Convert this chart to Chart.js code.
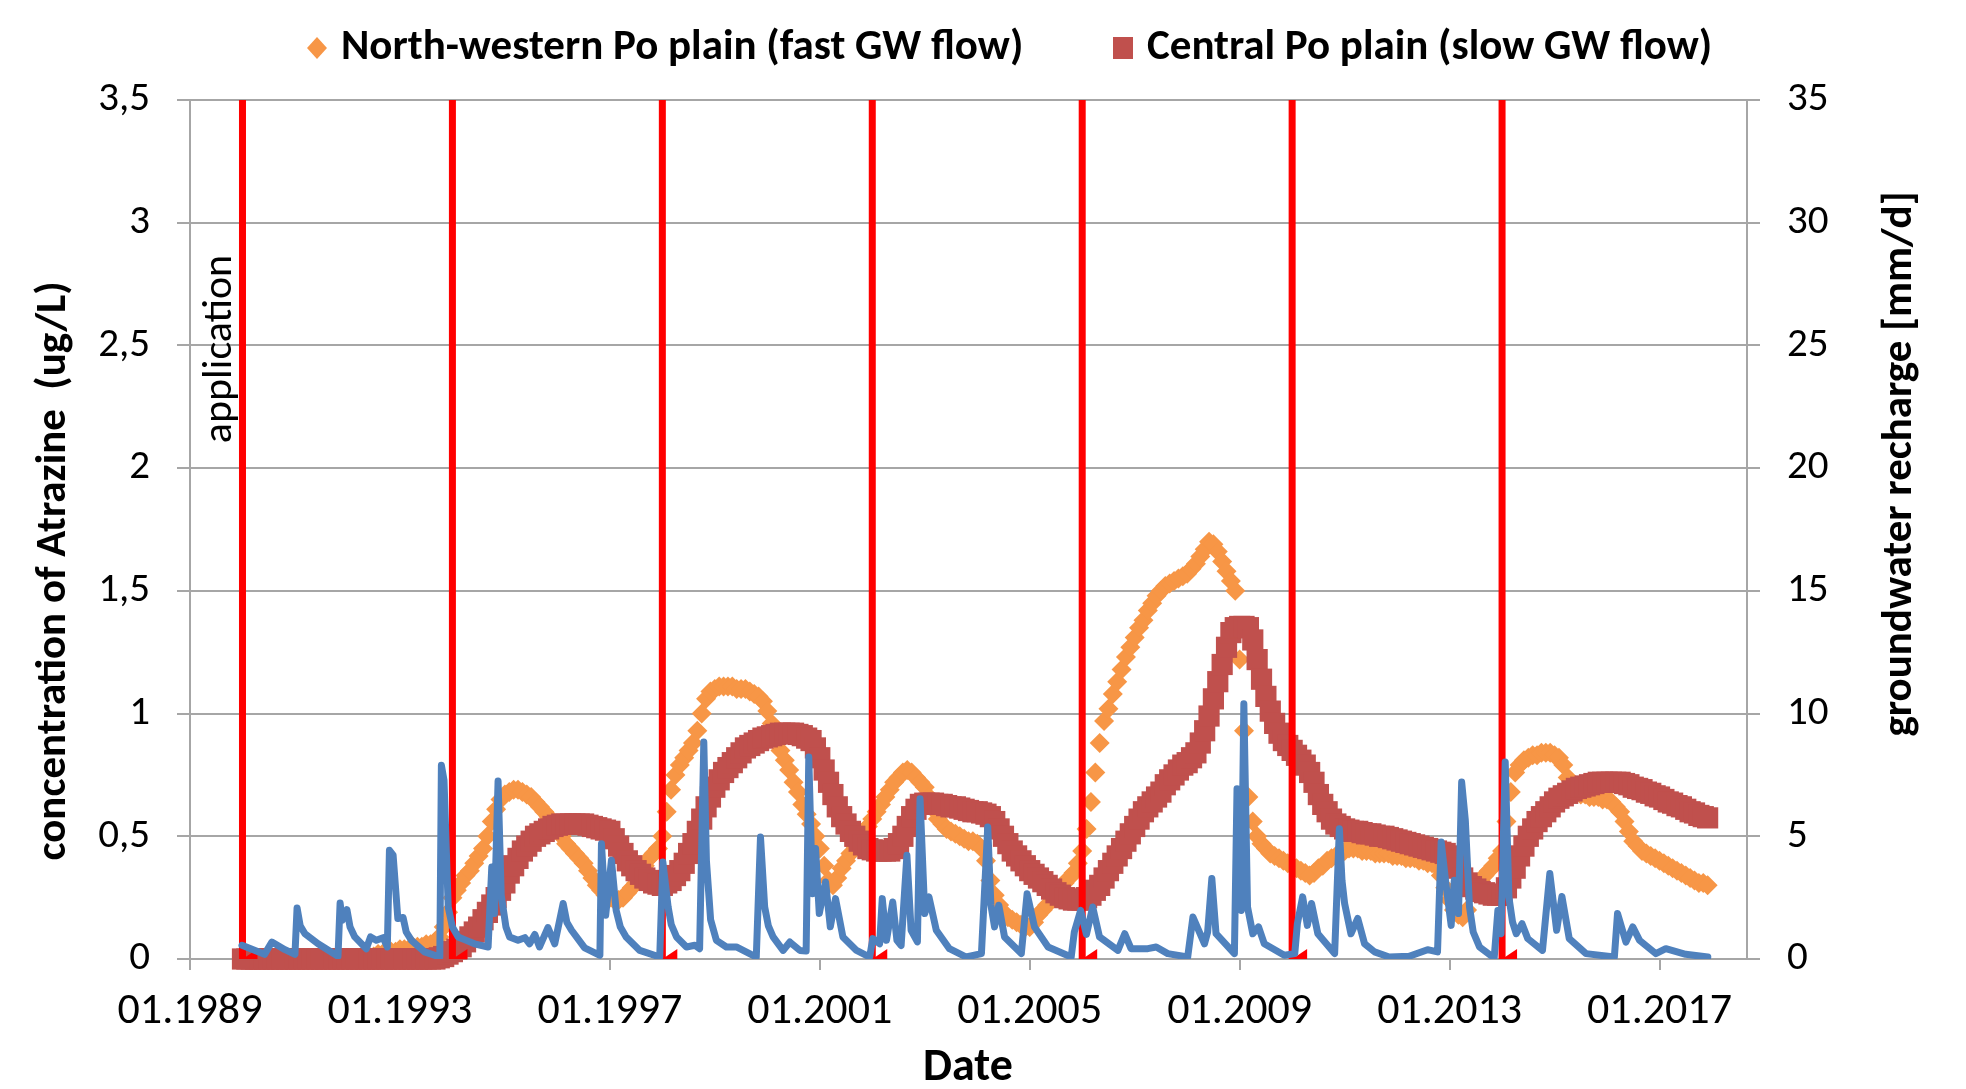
<!DOCTYPE html>
<html>
<head>
<meta charset="utf-8">
<script src="https://cdn.jsdelivr.net/npm/chart.js@4.4.1/dist/chart.umd.min.js"></script>
<style>
  html, body { margin: 0; padding: 0; background: #fff; }
  canvas { display: block; }
</style>
</head>
<body>
<canvas id="chart" width="1966" height="1089"></canvas>
<script>
// x axis tick labels (January of each year) and application dates
const tickYears = [1989, 1993, 1997, 2001, 2005, 2009, 2013, 2017];
const applicationYears = [1990, 1994, 1998, 2002, 2006, 2010, 2014];

// monthly concentrations [ug/L], Jan 1990 .. Dec 2017, one row per year
const northWestern = [
  0, 0, 0, 0, 0, 0, 0, 0, 0, 0, 0, 0,
  0, 0, 0, 0, 0, 0, 0, 0, 0, 0, 0, 0,
  0, 0, 0, 0, 0.01, 0.01, 0.01, 0.02, 0.02, 0.02, 0.03, 0.03,
  0.04, 0.04, 0.04, 0.05, 0.05, 0.05, 0.06, 0.06, 0.07, 0.09, 0.13, 0.19,
  0.25, 0.28, 0.31, 0.34, 0.36, 0.39, 0.42, 0.45, 0.50, 0.56, 0.61, 0.65,
  0.67, 0.68, 0.69, 0.69, 0.68, 0.67, 0.66, 0.64, 0.62, 0.60, 0.58, 0.56,
  0.53, 0.50, 0.47, 0.45, 0.43, 0.41, 0.39, 0.36, 0.33, 0.30, 0.28, 0.26,
  0.25, 0.24, 0.24, 0.25, 0.27, 0.29, 0.31, 0.34, 0.38, 0.41, 0.43, 0.45,
  0.50, 0.60, 0.69, 0.75, 0.79, 0.82, 0.85, 0.88, 0.93, 1.00, 1.06, 1.09,
  1.10, 1.11, 1.11, 1.11, 1.11, 1.10, 1.10, 1.10, 1.09, 1.08, 1.07, 1.05,
  1.01, 0.96, 0.90, 0.85, 0.81, 0.77, 0.72, 0.68, 0.63, 0.59, 0.55, 0.50,
  0.45, 0.38, 0.32, 0.30, 0.33, 0.37, 0.40, 0.43, 0.46, 0.49, 0.52, 0.54,
  0.57, 0.60, 0.63, 0.66, 0.69, 0.72, 0.74, 0.76, 0.77, 0.76, 0.74, 0.72,
  0.70, 0.66, 0.61, 0.57, 0.55, 0.53, 0.52, 0.51, 0.50, 0.49, 0.48, 0.48,
  0.47, 0.45, 0.40, 0.32, 0.26, 0.22, 0.19, 0.17, 0.16, 0.15, 0.14, 0.13,
  0.13, 0.15, 0.18, 0.20, 0.22, 0.25, 0.27, 0.29, 0.31, 0.33, 0.35, 0.39,
  0.44, 0.53, 0.64, 0.76, 0.88, 0.97, 1.02, 1.08, 1.13, 1.18, 1.23, 1.27,
  1.31, 1.35, 1.38, 1.42, 1.45, 1.48, 1.50, 1.52, 1.53, 1.54, 1.55, 1.56,
  1.57, 1.59, 1.61, 1.64, 1.67, 1.70, 1.69, 1.66, 1.62, 1.58, 1.54, 1.50,
  1.22, 0.93, 0.66, 0.56, 0.50, 0.47, 0.45, 0.43, 0.42, 0.41, 0.40, 0.39,
  0.38, 0.37, 0.36, 0.35, 0.34, 0.35, 0.37, 0.38, 0.40, 0.41, 0.42, 0.43,
  0.44, 0.45, 0.45, 0.45, 0.44, 0.44, 0.44, 0.43, 0.43, 0.43, 0.43, 0.42,
  0.42, 0.42, 0.41, 0.41, 0.41, 0.40, 0.40, 0.39, 0.39, 0.38, 0.34, 0.29,
  0.24, 0.20, 0.18, 0.17, 0.20, 0.28, 0.30, 0.32, 0.34, 0.36, 0.38, 0.41,
  0.44, 0.56, 0.68, 0.76, 0.79, 0.81, 0.82, 0.83, 0.83, 0.84, 0.84, 0.84,
  0.83, 0.82, 0.79, 0.74, 0.70, 0.68, 0.67, 0.67, 0.66, 0.66, 0.66, 0.65,
  0.65, 0.64, 0.62, 0.60, 0.56, 0.52, 0.48, 0.46, 0.44, 0.43, 0.42, 0.41,
  0.40, 0.39, 0.38, 0.37, 0.36, 0.35, 0.34, 0.33, 0.32, 0.31, 0.31, 0.30
];

const central = [
  0, 0, 0, 0, 0, 0, 0, 0, 0, 0, 0, 0,
  0, 0, 0, 0, 0, 0, 0, 0, 0, 0, 0, 0,
  0, 0, 0, 0, 0, 0, 0, 0, 0, 0, 0, 0,
  0, 0, 0, 0, 0, 0, 0, 0, 0, 0.005, 0.01, 0.02,
  0.03, 0.04, 0.05, 0.07, 0.09, 0.11, 0.13, 0.16, 0.19, 0.22, 0.25, 0.28,
  0.31, 0.35, 0.38, 0.41, 0.44, 0.46, 0.48, 0.50, 0.51, 0.52, 0.53, 0.54,
  0.545, 0.55, 0.55, 0.55, 0.55, 0.55, 0.55, 0.545, 0.54, 0.535, 0.53, 0.525,
  0.52, 0.49, 0.46, 0.43, 0.40, 0.38, 0.36, 0.345, 0.33, 0.32, 0.31, 0.305,
  0.30, 0.31, 0.32, 0.34, 0.36, 0.39, 0.43, 0.47, 0.52, 0.57, 0.62, 0.66,
  0.70, 0.73, 0.76, 0.78, 0.80, 0.82, 0.84, 0.86, 0.87, 0.88, 0.89, 0.90,
  0.905, 0.91, 0.915, 0.92, 0.92, 0.92, 0.92, 0.915, 0.91, 0.90, 0.89, 0.86,
  0.82, 0.77, 0.72, 0.67, 0.62, 0.58, 0.55, 0.52, 0.50, 0.48, 0.465, 0.45,
  0.445, 0.44, 0.44, 0.44, 0.44, 0.45, 0.47, 0.50, 0.54, 0.58, 0.61, 0.63,
  0.635, 0.635, 0.635, 0.63, 0.63, 0.625, 0.62, 0.62, 0.615, 0.61, 0.605, 0.60,
  0.60, 0.595, 0.59, 0.58, 0.56, 0.53, 0.50, 0.47, 0.44, 0.42, 0.40, 0.38,
  0.36, 0.345, 0.33, 0.315, 0.30, 0.285, 0.27, 0.26, 0.25, 0.245, 0.24, 0.24,
  0.24, 0.25, 0.26, 0.28, 0.30, 0.33, 0.36, 0.39, 0.42, 0.45, 0.48, 0.51,
  0.54, 0.57, 0.60, 0.62, 0.64, 0.66, 0.68, 0.71, 0.73, 0.75, 0.77, 0.79,
  0.80, 0.82, 0.84, 0.88, 0.93, 0.99, 1.06, 1.13, 1.20, 1.27, 1.33, 1.35,
  1.355, 1.355, 1.35, 1.30, 1.22, 1.14, 1.07, 1.01, 0.96, 0.92, 0.89, 0.87,
  0.85, 0.83, 0.81, 0.79, 0.76, 0.72, 0.67, 0.63, 0.60, 0.57, 0.55, 0.54,
  0.53, 0.525, 0.52, 0.52, 0.515, 0.51, 0.51, 0.505, 0.50, 0.50, 0.495, 0.49,
  0.485, 0.48, 0.475, 0.47, 0.465, 0.46, 0.455, 0.45, 0.445, 0.44, 0.435, 0.43,
  0.42, 0.40, 0.37, 0.33, 0.31, 0.295, 0.285, 0.275, 0.27, 0.265, 0.26, 0.26,
  0.26, 0.29, 0.33, 0.37, 0.42, 0.46, 0.50, 0.53, 0.56, 0.58, 0.60, 0.62,
  0.64, 0.655, 0.665, 0.675, 0.685, 0.695, 0.70, 0.705, 0.71, 0.715, 0.72, 0.72,
  0.72, 0.72, 0.72, 0.72, 0.715, 0.71, 0.70, 0.695, 0.69, 0.68, 0.675, 0.665,
  0.66, 0.65, 0.64, 0.635, 0.625, 0.62, 0.61, 0.60, 0.595, 0.585, 0.58, 0.575
];

// groundwater recharge [mm/d] (secondary axis): dates and values
const rechargeDates = [
  1989.99, 1990.42, 1990.56, 1990.81, 1991.00, 1991.04, 1991.10, 1991.19, 1991.44, 1991.82,
  1991.86, 1991.90, 1991.99, 1992.05, 1992.14, 1992.36, 1992.44, 1992.55, 1992.68, 1992.76,
  1992.80, 1992.87, 1992.96, 1993.06, 1993.12, 1993.22, 1993.47, 1993.76, 1993.79, 1993.84,
  1993.92, 1994.00, 1994.11, 1994.23, 1994.42, 1994.68, 1994.75, 1994.80, 1994.87, 1994.93,
  1995.02, 1995.09, 1995.25, 1995.38, 1995.47, 1995.57, 1995.66, 1995.82, 1995.95, 1996.11,
  1996.18, 1996.27, 1996.52, 1996.81, 1996.84, 1996.92, 1997.03, 1997.12, 1997.20, 1997.31,
  1997.57, 1997.95, 1998.01, 1998.11, 1998.17, 1998.27, 1998.46, 1998.62, 1998.71, 1998.79,
  1998.84, 1998.92, 1999.03, 1999.22, 1999.41, 1999.79, 1999.87, 1999.95, 2000.02, 2000.11,
  2000.30, 2000.43, 2000.62, 2000.74, 2000.79, 2000.86, 2000.92, 2000.99, 2001.11, 2001.20,
  2001.30, 2001.44, 2001.70, 2001.95, 2002.01, 2002.14, 2002.19, 2002.27, 2002.39, 2002.47,
  2002.55, 2002.66, 2002.74, 2002.86, 2002.91, 2003.00, 2003.08, 2003.22, 2003.47, 2003.79,
  2004.08, 2004.20, 2004.26, 2004.33, 2004.41, 2004.52, 2004.84, 2004.95, 2005.09, 2005.35,
  2005.79, 2005.85, 2005.97, 2006.08, 2006.20, 2006.33, 2006.68, 2006.81, 2006.93, 2007.25,
  2007.41, 2007.63, 2008.01, 2008.11, 2008.33, 2008.39, 2008.47, 2008.55, 2008.90, 2008.95,
  2009.03, 2009.08, 2009.15, 2009.25, 2009.36, 2009.47, 2009.85, 2010.05, 2010.10, 2010.20,
  2010.29, 2010.37, 2010.49, 2010.81, 2010.90, 2010.95, 2011.00, 2011.12, 2011.25, 2011.38,
  2011.57, 2011.85, 2012.23, 2012.58, 2012.77, 2012.84, 2012.93, 2013.03, 2013.09, 2013.17,
  2013.23, 2013.30, 2013.38, 2013.45, 2013.57, 2013.85, 2013.92, 2013.98, 2014.06, 2014.13,
  2014.20, 2014.27, 2014.38, 2014.49, 2014.77, 2014.91, 2015.04, 2015.14, 2015.28, 2015.60,
  2016.14, 2016.20, 2016.36, 2016.49, 2016.62, 2016.93, 2017.12, 2017.50, 2017.92
];
const rechargeValues = [
  0.56, 0.19, 0.69, 0.38, 0.19, 2.08, 1.35, 1.03, 0.62, 0.11,
  2.28, 1.58, 2.01, 1.30, 0.90, 0.42, 0.90, 0.76, 0.87, 0.49,
  4.43, 4.23, 1.65, 1.69, 1.10, 0.76, 0.29, 0.08, 7.89, 7.28,
  2.12, 1.30, 0.90, 0.79, 0.62, 0.49, 3.75, 1.85, 7.25, 2.60,
  1.30, 0.90, 0.76, 0.87, 0.62, 1.00, 0.49, 1.28, 0.62, 2.26,
  1.50, 1.17, 0.45, 0.15, 4.70, 1.78, 4.02, 1.98, 1.30, 0.90,
  0.35, 0.08, 3.95, 2.12, 1.40, 0.90, 0.49, 0.56, 0.42, 8.84,
  4.00, 1.60, 0.76, 0.49, 0.49, 0.08, 4.97, 2.12, 1.35, 0.90,
  0.35, 0.69, 0.35, 0.33, 8.23, 2.66, 4.50, 1.85, 3.14, 1.31,
  2.46, 0.90, 0.35, 0.08, 0.83, 0.62, 2.46, 0.76, 2.32, 0.76,
  0.55, 4.23, 1.17, 0.70, 6.53, 1.85, 2.53, 1.17, 0.42, 0.08,
  0.22, 5.38, 2.20, 1.31, 2.19, 0.90, 0.22, 2.66, 1.31, 0.49,
  0.08, 1.10, 1.98, 1.00, 2.12, 0.90, 0.35, 1.03, 0.42, 0.42,
  0.49, 0.22, 0.08, 1.71, 0.62, 1.10, 3.28, 1.03, 0.22, 6.94,
  1.98, 10.4, 2.12, 1.03, 1.31, 0.62, 0.15, 0.22, 1.44, 2.53,
  1.37, 2.26, 1.03, 0.22, 5.31, 3.20, 2.26, 1.03, 1.65, 0.62,
  0.29, 0.08, 0.11, 0.38, 0.29, 4.77, 3.07, 1.37, 3.21, 1.85,
  7.21, 5.65, 2.12, 1.10, 0.49, 0.04, 1.98, 1.03, 8.03, 2.53,
  1.50, 1.03, 1.44, 0.83, 0.35, 3.48, 1.17, 2.55, 0.83, 0.22,
  0.08, 1.85, 0.69, 1.31, 0.76, 0.22, 0.42, 0.19, 0.08
];

const FONT = 'Carlito, Calibri, Lato, "Liberation Sans", sans-serif';
const ORANGE = '#F79646';
const MAROON = '#C0504D';
const BLUE = '#4F81BD';
const RED = '#FF0000';
const GRID = '#A6A6A6';

const months = northWestern.map((v, i) => 1990 + i / 12);

Chart.defaults.font.family = FONT;
Chart.defaults.color = '#000';

// small red wedge at the foot of every application line
const wedgePlugin = {
  id: 'wedges',
  afterDatasetDraw(chart, args) {
    if (args.index !== 1) return;
    const ctx = chart.ctx;
    const x = chart.scales.x, y = chart.scales.y;
    const y0 = y.getPixelForValue(0);
    ctx.save();
    ctx.fillStyle = RED;
    applicationYears.forEach(t => {
      const px = x.getPixelForValue(t);
      ctx.beginPath();
      ctx.moveTo(px, y0);
      ctx.lineTo(px + 15, y0);
      ctx.lineTo(px + 15, y0 - 10);
      ctx.closePath();
      ctx.fill();
    });
    ctx.restore();
  }
};

// axis titles, legend and the "application" note
const textPlugin = {
  id: 'texts',
  afterDraw(chart) {
    const ctx = chart.ctx;
    ctx.save();
    ctx.fillStyle = '#000';
    ctx.textBaseline = 'middle';
    ctx.textAlign = 'center';

    ctx.font = 'bold 46px ' + FONT;
    ctx.fillText('Date', 968, 1068);

    ctx.font = 'bold 43px ' + FONT;
    ctx.save();
    ctx.translate(54, 571);
    ctx.rotate(-Math.PI / 2);
    ctx.fillText('concentration of Atrazine  (ug/L)', 0, 0);
    ctx.restore();

    ctx.save();
    ctx.translate(1900, 464);
    ctx.rotate(-Math.PI / 2);
    ctx.fillText('groundwater recharge [mm/d]', 0, 0);
    ctx.restore();

    ctx.save();
    ctx.font = '42px ' + FONT;
    ctx.translate(220, 349);
    ctx.rotate(-Math.PI / 2);
    ctx.fillText('application', 0, 0);
    ctx.restore();

    // legend
    ctx.textAlign = 'left';
    ctx.font = 'bold 43px ' + FONT;
    ctx.fillStyle = ORANGE;
    ctx.beginPath();
    ctx.moveTo(317 - 10, 48); ctx.lineTo(317, 48 - 11); ctx.lineTo(317 + 10, 48); ctx.lineTo(317, 48 + 11);
    ctx.closePath(); ctx.fill();
    ctx.fillStyle = MAROON;
    ctx.fillRect(1123 - 10, 48 - 11, 20, 22);
    ctx.fillStyle = '#000';
    ctx.fillText('North-western Po plain (fast GW flow)', 341, 48);
    ctx.fillText('Central Po plain (slow GW flow)', 1147, 48);
    ctx.restore();
  }
};

const applicationPoints = applicationYears.flatMap(t => [{x: t, y: 0}, {x: t, y: 3.5}, {x: t, y: null}]);

new Chart(document.getElementById('chart'), {
  type: 'line',
  data: {
    datasets: [
      {
        label: 'groundwater recharge',
        data: rechargeDates.map((x, i) => ({x: x, y: rechargeValues[i]})),
        yAxisID: 'y2',
        borderColor: BLUE,
        borderWidth: 7,
        borderJoinStyle: 'round',
        borderCapStyle: 'round',
        pointRadius: 0,
        tension: 0,
        order: 0
      },
      {
        label: 'application',
        data: applicationPoints,
        yAxisID: 'y',
        borderColor: RED,
        borderWidth: 7,
        pointRadius: 0,
        spanGaps: false,
        order: 1
      },
      {
        label: 'Central Po plain (slow GW flow)',
        data: months.map((x, i) => ({x: x, y: central[i]})),
        yAxisID: 'y',
        showLine: false,
        pointStyle: 'rect',
        pointRadius: 15,
        pointBorderWidth: 0,
        backgroundColor: MAROON,
        pointBackgroundColor: MAROON,
        clip: false,
        order: 2
      },
      {
        label: 'North-western Po plain (fast GW flow)',
        data: months.map((x, i) => ({x: x, y: northWestern[i]})),
        yAxisID: 'y',
        showLine: false,
        pointStyle: 'rectRot',
        pointRadius: 10,
        pointBorderWidth: 0,
        backgroundColor: ORANGE,
        pointBackgroundColor: ORANGE,
        clip: false,
        order: 3
      }
    ]
  },
  options: {
    responsive: false,
    animation: false,
    devicePixelRatio: 1,
    layout: { padding: { top: 100, left: 0, right: 0, bottom: 0 } },
    plugins: { legend: { display: false }, tooltip: { enabled: false } },
    scales: {
      x: {
        type: 'linear',
        min: 1989,
        max: 2018.667,
        afterBuildTicks: s => { s.ticks = tickYears.map(v => ({value: v})); },
        afterFit: s => { s.height = 130; },
        grid: { drawOnChartArea: false, color: GRID, lineWidth: 2, tickLength: 11 },
        border: { color: GRID, width: 2 },
        ticks: {
          font: { size: 44 }, color: '#000', padding: 16, maxRotation: 0, autoSkip: false,
          callback: v => '01.' + v
        }
      },
      y: {
        position: 'left',
        min: 0,
        max: 3.5,
        afterFit: s => { s.width = 190; },
        grid: { color: GRID, lineWidth: 2, tickLength: 13 },
        border: { color: GRID, width: 2 },
        ticks: {
          stepSize: 0.5, font: { size: 41 }, color: '#000', padding: 27,
          callback: v => String(v).replace('.', ',')
        }
      },
      y2: {
        position: 'right',
        min: 0,
        max: 35,
        afterFit: s => { s.width = 219; },
        grid: { drawOnChartArea: false, color: GRID, lineWidth: 2, tickLength: 13 },
        border: { color: GRID, width: 2 },
        ticks: { stepSize: 5, font: { size: 41 }, color: '#000', padding: 27 }
      }
    }
  },
  plugins: [wedgePlugin, textPlugin]
});
</script>
</body>
</html>
